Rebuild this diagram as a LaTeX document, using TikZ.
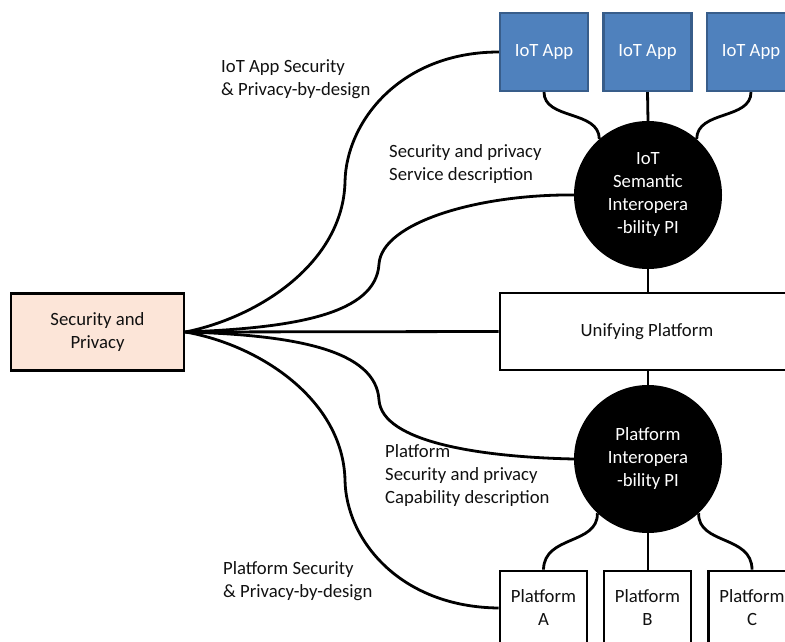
\documentclass[tikz,border=0pt]{standalone}
\usepackage{fontspec}
\setmainfont{Carlito}
\definecolor{appfill}{HTML}{4F81BD}
\definecolor{appedge}{HTML}{385D8A}
\definecolor{secfill}{HTML}{FCE5D8}
\definecolor{ink}{HTML}{111111}
\begin{document}
\begin{tikzpicture}[x=1pt,y=-1pt,
  font=\fontsize{18.7}{23}\selectfont,
  text=ink,
  wire/.style={line width=2.8pt, draw=black},
  appbox/.style={draw=appedge, fill=appfill, line width=2.2pt, text=white,
    minimum width=88, minimum height=78, inner sep=0pt},
  platbox/.style={draw=black, fill=white, line width=2.8pt,
    minimum width=87, minimum height=74, inner sep=0pt, align=center},
  hub/.style={circle, fill=black, text=white, minimum size=148, inner sep=0pt, align=center},
  label/.style={align=left, inner sep=0pt, anchor=west}
]
\useasboundingbox (0,0) rectangle (785,642);
\clip (0,0) rectangle (785,642);

% hubs and boxes
\node[hub] (ioti) at (648,195) {IoT\\Semantic\\Interopera\\-bility PI};
\node[hub] (plati) at (648,459) {Platform\\Interopera\\-bility PI};

\node[appbox] (app1) at (544,52) {IoT App};
\node[appbox] (app2) at (647.5,52) {IoT App};
\node[appbox] (app3) at (751,52) {IoT App};

\node[draw=black, fill=white, line width=2.8pt, minimum width=294, minimum height=77,
  inner sep=0pt] (unify) at (647,331.5) {Unifying Platform};

\node[platbox] (platA) at (543.5,608) {Platform\\A};
\node[platbox] (platB) at (647.5,608) {Platform\\B};
\node[platbox] (platC) at (752,608) {Platform\\C};

\node[draw=black, fill=secfill, line width=2.8pt, minimum width=173, minimum height=77,
  inner sep=0pt, align=center] (sec) at (97.5,332) {Security and\\Privacy};

% links between apps, hubs, platforms
\draw[wire] (app1.south) .. controls (544,120) and (599,110) .. (ioti.131);
\draw[wire] (app3.south) .. controls (751,120) and (697,110) .. (ioti.49);
\draw[wire] (app2.south) -- (ioti.north);
\draw[wire] (ioti.south) -- (ioti.south |- unify.north);
\draw[wire] (plati.north) -- (plati.north |- unify.south);
\draw[wire] (plati.south) -- (plati.south |- platB.north);
\draw[wire] (plati.227) .. controls (598,545) and (544,535) .. (platA.north);
\draw[wire] (plati.313) .. controls (698,545) and (752,535) .. (platC.north);

% security and privacy links
\draw[wire] (sec.east) .. controls (260,317) and (343,262) .. (345,182)
  .. controls (346,122) and (400,52) .. (app1.west);
\draw[wire] (sec.east) .. controls (295,328) and (376,314) .. (379,264)
  .. controls (382,222) and (480,194) .. (ioti.west);
\draw[wire] (sec.east) -- (unify.west);
\draw[wire] (sec.east) .. controls (295,335) and (376,350) .. (379,400)
  .. controls (382,442) and (480,457) .. (plati.west);
\draw[wire] (sec.east) .. controls (260,345) and (343,400) .. (345,480)
  .. controls (346,540) and (400,607) .. (platA.west);

% labels
\node[label] (l1) at (221,79.5) {IoT App Security\\\& Privacy-by-design};
\node[label] (l2) at (389,164.5) {Security and privacy\\Service description};
\node[label] (l3) at (385,475.5) {Platform\\Security and privacy\\Capability description};
\node[label] (l4) at (223,581.5) {Platform Security\\\& Privacy-by-design};
\end{tikzpicture}
\end{document}
